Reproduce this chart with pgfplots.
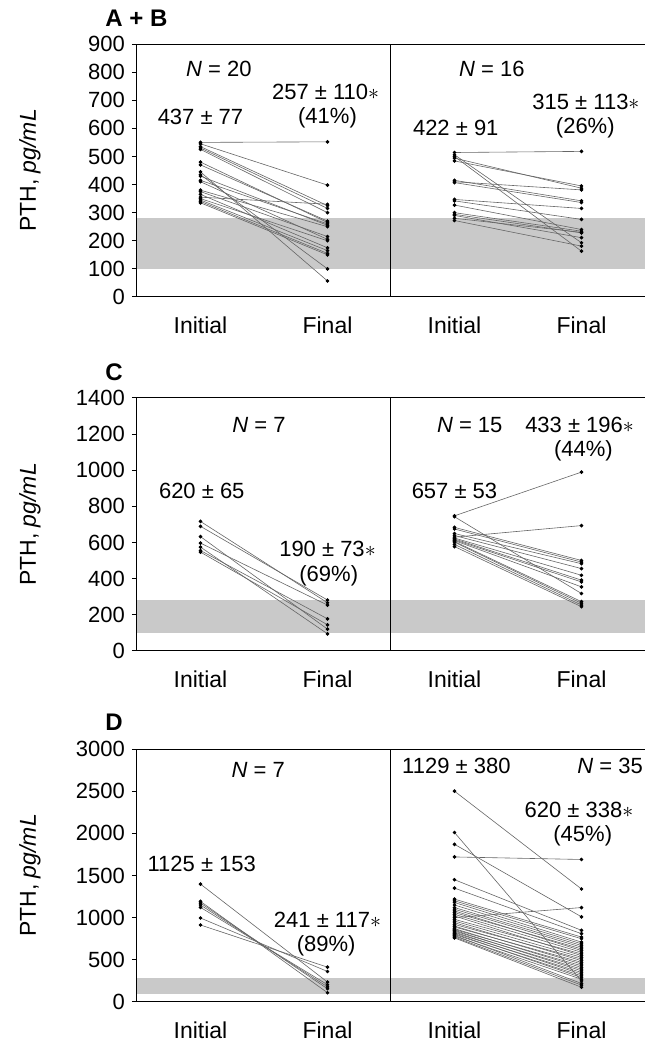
\documentclass[border=0pt]{standalone}
\usepackage{fontspec}
\setmainfont{Liberation Sans}
\usepackage{pgfplots}
\pgfplotsset{compat=1.18}
\usepackage{pgfplotstable}

% PTH pairs, initial (i) and final (f), pg/mL
\pgfplotstableread{
i f
550 552
545 398
535 325
530 315
525 300
480 265
470 270
445 57
435 100
430 255
415 260
410 205
380 250
375 215
365 175
355 330
350 200
345 165
340 155
335 150
}\tabABl
\pgfplotstableread{
i f
514 518
506 193
500 163
494 387
484 395
415 342
410 381
407 336
347 315
342 276
327 240
300 234
294 228
290 211
280 230
272 181
}\tabABr
\pgfplotstableread{
i f
717 267
690 282
633 121
597 254
575 95
556 178
547 145
}\tabCl
\pgfplotstableread{
i f
748 990
743 318
684 501
675 492
650 483
639 456
630 694
625 419
620 392
615 382
611 355
606 273
602 264
590 254
578 245
}\tabCr
\pgfplotstableread{
i f
1398 236
1193 110
1173 157
1150 180
1122 205
996 362
913 413
}\tabDl
\pgfplotstableread{
i f
2500 1340
2010 250
1870 1010
1720 1690
1450 850
1350 810
1220 770
1000 1120
1200 750
1180 710
1150 690
1120 670
1100 650
1080 610
1060 630
1040 590
1020 550
980 570
960 530
940 490
920 510
900 450
890 470
870 410
860 430
850 370
840 390
830 330
820 350
810 290
800 310
790 220
780 270
770 200
760 175
}\tabDr

\pgfplotsset{
  pth/.style={
    scale only axis, width=254pt, height=126.5pt,
    xmin=0, xmax=8, ymin=0,
    axis x line=box, axis y line=left,
    axis line style={-, line width=0.5pt},
    axis on top, clip=false,
    xtick={1,3,5,7}, xticklabels={Initial,Final,Initial,Final},
    x tick style={draw=none},
    ytick pos=left, tick align=outside, major tick length=2.5pt,
    y tick style={black, line width=0.5pt},
    ylabel={PTH, \textit{pg/mL}},
    every axis y label/.style={at={(axis description cs:-0.211,0.5)}, rotate=90, anchor=center, font=\fontsize{11.5}{13}\selectfont},
    tick label style={font=\fontsize{11}{13}\selectfont},
    xticklabel style={yshift=-4pt, font=\fontsize{11.5}{13}\selectfont},
    /pgf/number format/assume math mode=true,
    /pgf/number format/1000 sep={},
  },
  band/.style={fill=black!21, draw=none},
  pair/.style={black!60, line width=0.3pt},
  dot/.style={black, only marks, mark=*, mark size=0.7pt},
}
\tikzset{
  lab/.style={font=\fontsize{11}{13}\selectfont},
  panel/.style={anchor=west, inner sep=0pt, font=\bfseries\fontsize{12}{14}\selectfont},
}

\begin{document}
\begin{tikzpicture}[x=1pt,y=1pt]
\useasboundingbox (0,0) rectangle (323.5,522.5);
\node[panel] at (52.5,513.5) {A + B};
\node[panel] at (52.5,336.5) {C};
\node[panel] at (52.5,161.5) {D};

% A + B
\begin{axis}[pth, at={(68.5pt,374pt)}, ymax=900, ytick={0,100,...,900}]
\addplot[band] coordinates {(0,100) (8,100) (8,280) (0,280)} -- cycle;
\draw[line width=0.5pt] (rel axis cs:0.5,0) -- (rel axis cs:0.5,1);
\addplot[pair, quiver={u=2, v=\thisrow{f}-\thisrow{i}}] table[x expr=1, y=i] {\tabABl};
\addplot[dot] table[x expr=1, y=i] {\tabABl};
\addplot[dot] table[x expr=3, y=f] {\tabABl};
\addplot[pair, quiver={u=2, v=\thisrow{f}-\thisrow{i}}] table[x expr=5, y=i] {\tabABr};
\addplot[dot] table[x expr=5, y=i] {\tabABr};
\addplot[dot] table[x expr=7, y=f] {\tabABr};
\node[lab] at (axis cs:1.29,811) {\textit{N} = 20};
\node[lab] at (axis cs:1.0,639) {437 ± 77};
\node[lab] at (axis cs:2.97,728) {257 ± 110$\ast$};
\node[lab] at (axis cs:3.0,639) {(41\%)};
\node[lab] at (axis cs:5.59,811) {\textit{N} = 16};
\node[lab] at (axis cs:5.02,603) {422 ± 91};
\node[lab] at (axis cs:7.07,695) {315 ± 113$\ast$};
\node[lab] at (axis cs:7.06,603) {(26\%)};
\end{axis}

% C
\begin{axis}[pth, at={(68.5pt,197pt)}, ymax=1400, ytick={0,200,...,1400}]
\addplot[band] coordinates {(0,100) (8,100) (8,280) (0,280)} -- cycle;
\draw[line width=0.5pt] (rel axis cs:0.5,0) -- (rel axis cs:0.5,1);
\addplot[pair, quiver={u=2, v=\thisrow{f}-\thisrow{i}}] table[x expr=1, y=i] {\tabCl};
\addplot[dot] table[x expr=1, y=i] {\tabCl};
\addplot[dot] table[x expr=3, y=f] {\tabCl};
\addplot[pair, quiver={u=2, v=\thisrow{f}-\thisrow{i}}] table[x expr=5, y=i] {\tabCr};
\addplot[dot] table[x expr=5, y=i] {\tabCr};
\addplot[dot] table[x expr=7, y=f] {\tabCr};
\node[lab] at (axis cs:1.92,1250) {\textit{N} = 7};
\node[lab] at (axis cs:1.02,886) {620 ± 65};
\node[lab] at (axis cs:3.0,565) {190 ± 73$\ast$};
\node[lab] at (axis cs:3.02,415) {(69\%)};
\node[lab] at (axis cs:5.24,1250) {\textit{N} = 15};
\node[lab] at (axis cs:6.97,1250) {433 ± 196$\ast$};
\node[lab] at (axis cs:7.03,1105) {(44\%)};
\node[lab] at (axis cs:5.0,886) {657 ± 53};
\end{axis}

% D
\begin{axis}[pth, at={(68.5pt,21.5pt)}, ymax=3000, ytick={0,500,...,3000}]
\addplot[band] coordinates {(0,100) (8,100) (8,280) (0,280)} -- cycle;
\draw[line width=0.5pt] (rel axis cs:0.5,0) -- (rel axis cs:0.5,1);
\addplot[pair, quiver={u=2, v=\thisrow{f}-\thisrow{i}}] table[x expr=1, y=i] {\tabDl};
\addplot[dot] table[x expr=1, y=i] {\tabDl};
\addplot[dot] table[x expr=3, y=f] {\tabDl};
\addplot[pair, quiver={u=2, v=\thisrow{f}-\thisrow{i}}] table[x expr=5, y=i] {\tabDr};
\addplot[dot] table[x expr=5, y=i] {\tabDr};
\addplot[dot] table[x expr=7, y=f] {\tabDr};
\node[lab] at (axis cs:1.91,2750) {\textit{N} = 7};
\node[lab] at (axis cs:1.02,1640) {1125 ± 153};
\node[lab] at (axis cs:3.0,975) {241 ± 117$\ast$};
\node[lab] at (axis cs:2.98,665) {(89\%)};
\node[lab] at (axis cs:5.03,2795) {1129 ± 380};
\node[lab] at (axis cs:7.45,2795) {\textit{N} = 35};
\node[lab] at (axis cs:6.96,2280) {620 ± 338$\ast$};
\node[lab] at (axis cs:7.02,1975) {(45\%)};
\end{axis}
\end{tikzpicture}
\end{document}
